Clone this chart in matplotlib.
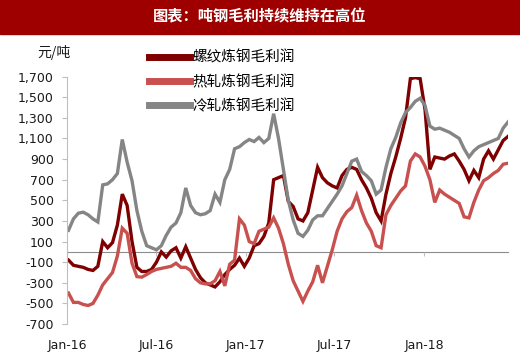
import matplotlib
matplotlib.use("Agg")
import matplotlib.pyplot as plt
import matplotlib.dates as mdates
from matplotlib.ticker import FuncFormatter
import pandas as pd

plt.rcParams["font.family"] = ["Noto Sans CJK SC", "DejaVu Sans"]

TITLE = "图表：吨钢毛利持续维持在高位"
UNIT = "元/吨"
SERIES_NAMES = ["螺纹炼钢毛利润", "热轧炼钢毛利润", "冷轧炼钢毛利润"]

# sampled every 10 days from early Jan 2016
START_DATE = "2016-01-04"
STEP = "10D"

rebar = [
    -80, -130, -140, -150, -170, -180, -140, 100, 40, 90,
    260, 560, 450, 100, -150, -190, -190, -170, -100, 0,
    -50, 10, 40, -60, 50, -60, -170, -250, -300, -320,
    -340, -290, -220, -170, -130, -60, -140, -60, 60, 80,
    150, 280, 700, 720, 740, 490, 440, 320, 300, 380,
    600, 820, 720, 670, 640, 620, 740, 800, 820, 800,
    700, 620, 520, 380, 300, 560, 760, 920, 1100, 1300,
    1680, 1690, 1680, 1380, 800, 920, 910, 900, 930, 950,
    880, 800, 690, 790, 720, 900, 980, 900, 990, 1080,
    1120,
]

hot_rolled = [
    -400, -490, -490, -510, -520, -500, -420, -320, -260, -200,
    -40, 230, 180, -110, -240, -245, -220, -190, -170, -160,
    -150, -140, -110, -150, -150, -180, -260, -300, -310, -310,
    -280, -190, -330, -120, -80, 320, 260, 100, 80, 200,
    220, 240, 330, 230, 80, -120, -280, -380, -480, -380,
    -290, -130, -300, -140, 20, 200, 320, 390, 430, 550,
    400, 280, 200, 60, 40, 360, 450, 520, 590, 640,
    880, 950, 920, 830, 700, 480, 600, 560, 530, 500,
    470, 340, 330, 480, 600, 690, 720, 760, 790, 850,
    860,
]

cold_rolled = [
    210, 320, 375, 385, 360, 320, 290, 650, 660, 700,
    760, 1090, 870, 690, 400, 200, 60, 40, 20, 60,
    160, 240, 280, 380, 620, 450, 380, 360, 370, 400,
    560, 480, 700, 800, 1000, 1020, 1060, 1090, 1070, 1110,
    1060, 1100, 1340, 1100, 800, 500, 310, 180, 150, 210,
    310, 350, 350, 420, 490, 560, 640, 760, 880, 900,
    780, 740, 690, 560, 600, 820, 1000, 1110, 1250, 1350,
    1400, 1460, 1490, 1420, 1220, 1190, 1200, 1180, 1160, 1130,
    1100, 1000, 920, 980, 1020, 1040, 1060, 1080, 1100, 1200,
    1260,
]

COLORS = ["#7F0000", "#C8504F", "#858585"]
Y_TICKS = list(range(-700, 1701, 200))
X_TICKS = ["2016-01-01", "2016-07-01", "2017-01-01", "2017-07-01", "2018-01-01"]


def main() -> None:
    dates = pd.date_range(START_DATE, periods=len(rebar), freq=STEP)

    fig = plt.figure(figsize=(5.2, 3.53), dpi=100)

    # title bar
    fig.patches.append(
        plt.Rectangle((0, 0.903), 1, 0.097, transform=fig.transFigure,
                      color="#9E0000", zorder=0)
    )
    fig.text(0.5, 0.953, TITLE, color="white", fontsize=11,
             fontweight="bold", ha="center", va="center")

    ax = fig.add_axes([0.129, 0.082, 0.848, 0.701])

    for values, name, color in zip([rebar, hot_rolled, cold_rolled],
                                   SERIES_NAMES, COLORS):
        ax.plot(dates, values, color=color, lw=2.4, label=name,
                solid_joinstyle="miter")

    ax.set_ylim(-700, 1700)
    ax.set_xlim(pd.Timestamp("2016-01-01"), dates[-1])
    ax.set_yticks(Y_TICKS)
    ax.yaxis.set_major_formatter(FuncFormatter(lambda v, p: f"{int(v):,}"))
    ax.set_xticks(pd.to_datetime(X_TICKS))
    ax.xaxis.set_major_formatter(mdates.DateFormatter("%b-%y"))

    for side in ["top", "right"]:
        ax.spines[side].set_visible(False)
    ax.spines["left"].set_color("#BFBFBF")
    ax.spines["bottom"].set_position(("data", 0))
    ax.spines["bottom"].set_color("#8C8C8C")
    ax.spines["bottom"].set_zorder(1)

    ax.tick_params(axis="y", length=3.5, color="#BFBFBF", labelsize=9,
                   pad=6, labelcolor="#1A1A1A")
    ax.tick_params(axis="x", length=3, color="#BFBFBF", labelsize=9,
                   pad=60, labelcolor="#1A1A1A")
    for label in ax.get_xticklabels() + ax.get_yticklabels():
        label.set_fontfamily("DejaVu Sans")

    fig.text(0.071, 0.851, UNIT, fontsize=10, color="#1A1A1A",
             va="center")

    fig.legend(loc="upper left", bbox_to_anchor=(0.286, 0.857),
               frameon=False, fontsize=10.5, handlelength=2.8,
               handleheight=0.6, handletextpad=0.2, labelspacing=0.68,
               borderaxespad=0, borderpad=0)
    for line in fig.legends[0].get_lines():
        line.set_linewidth(5)

    fig.savefig("out.png", dpi=100)
    plt.close(fig)


if __name__ == "__main__":
    main()
